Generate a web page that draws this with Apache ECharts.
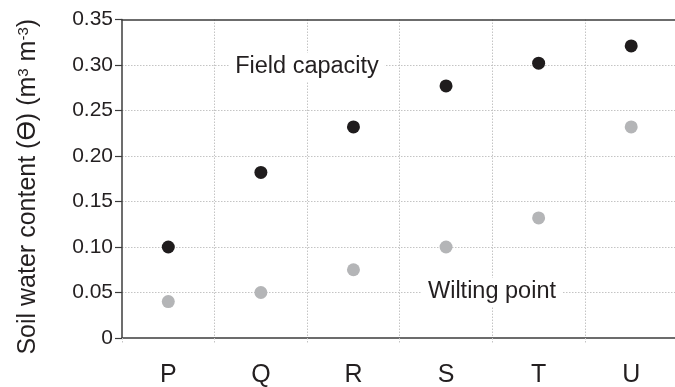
<!DOCTYPE html>
<html>
<head>
<meta charset="utf-8">
<script src="https://cdn.jsdelivr.net/npm/echarts@6/dist/echarts.min.js"></script>
<style>
html,body{margin:0;padding:0;background:#fff;}
#c{width:675px;height:387px;}
</style>
</head>
<body>
<div id="c"></div>
<script>
var categories = ['P', 'Q', 'R', 'S', 'T', 'U'];
var fieldCapacity = [0.10, 0.182, 0.232, 0.277, 0.302, 0.321];
var wiltingPoint = [0.04, 0.05, 0.075, 0.10, 0.132, 0.232];
var yTicks = [0, 0.05, 0.10, 0.15, 0.20, 0.25, 0.30, 0.35];

var FONT = '"Liberation Sans", Arial, sans-serif';
var TXT = '#231f20';
var AX = '#3c3c3c';
var GRID = '#c4c4c4';

var chart = echarts.init(document.getElementById('c'), null, {renderer: 'canvas'});
chart.setOption({
  animation: false,
  backgroundColor: '#fff',
  grid: {left: 122, width: 555.5, top: 19.5, bottom: 49, outerBoundsMode: 'none', containLabel: false, show: false},
  xAxis: [{
    type: 'category',
    data: categories,
    boundaryGap: true,
    axisLine: {lineStyle: {color: AX, width: 1.5}},
    axisTick: {show: true, length: 6, lineStyle: {color: GRID, type: [1.5, 1.5], width: 1}},
    splitLine: {show: true, showMinLine: false, lineStyle: {color: GRID, type: [1.5, 1.5], width: 1}},
    axisLabel: {color: TXT, fontFamily: FONT, fontSize: 25, margin: 25},
    z: 3
  }, {
    type: 'category',
    data: categories,
    position: 'top',
    boundaryGap: true,
    axisLine: {show: true, lineStyle: {color: AX, width: 1.5}},
    axisTick: {show: false},
    axisLabel: {show: false},
    splitLine: {show: false},
    z: 3
  }],
  yAxis: {
    type: 'value',
    min: 0, max: 0.35, interval: 0.05,
    name: 'Soil water content (ϴ) (m{sup|3} m{sup|-3})',
    nameLocation: 'middle',
    nameGap: 81,
    nameTextStyle: {color: TXT, fontFamily: FONT, fontSize: 25, padding: [0, 0, 0, -16],
      rich: {sup: {fontSize: 15, verticalAlign: 'top', color: TXT, fontFamily: FONT, padding: [0, 0, 10, 0]}}},
    axisLine: {show: true, lineStyle: {color: AX, width: 1.5}},
    axisTick: {show: true, length: 7, lineStyle: {color: AX, width: 1.2}},
    splitLine: {show: true, showMinLine: false, showMaxLine: false, lineStyle: {color: GRID, type: [1.5, 1.5], width: 1}},
    axisLabel: {color: TXT, fontFamily: FONT, fontSize: 21, margin: 9,
      formatter: function (v) {
        for (var i = 0; i < yTicks.length; i++) {
          if (Math.abs(yTicks[i] - v) < 1e-9) return v === 0 ? '0' : yTicks[i].toFixed(2);
        }
        return '';
      }},
    z: 3
  },
  series: [
    {name: 'Field capacity', type: 'scatter', data: fieldCapacity, symbolSize: 13,
      itemStyle: {color: '#1f1c1d', opacity: 1}, z: 5},
    {name: 'Wilting point', type: 'scatter', data: wiltingPoint, symbolSize: 13,
      itemStyle: {color: '#b4b5b7', opacity: 1}, z: 5}
  ],
  graphic: [
    {type: 'text', x: 307, y: 67, z: 10,
      style: {text: 'Field capacity', fill: TXT, font: '23.5px ' + FONT, align: 'center', verticalAlign: 'middle', backgroundColor: '#fff', padding: [2, 6, 2, 6]}},
    {type: 'text', x: 492, y: 292, z: 10,
      style: {text: 'Wilting point', fill: TXT, font: '23.5px ' + FONT, align: 'center', verticalAlign: 'middle', backgroundColor: '#fff', padding: [2, 6, 2, 6]}}
  ]
});
</script>
</body>
</html>
